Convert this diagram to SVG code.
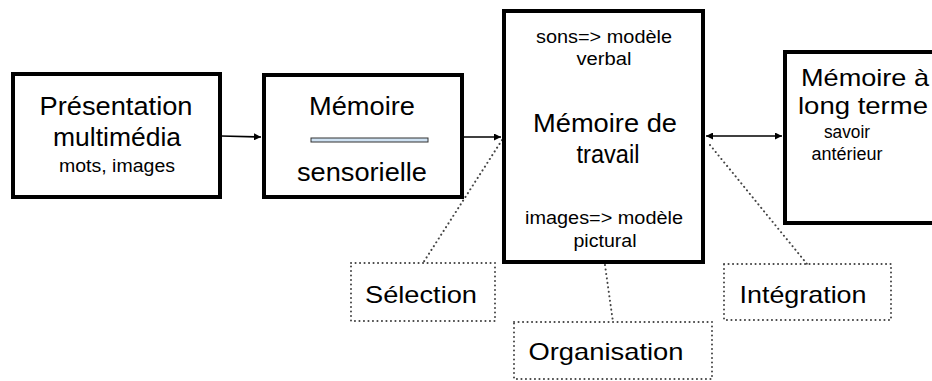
<svg xmlns="http://www.w3.org/2000/svg" width="932" height="381" viewBox="0 0 932 381">
  <defs>
    <marker id="arrow" viewBox="0 0 10 10" refX="10" refY="5" markerWidth="7" markerHeight="7" markerUnits="userSpaceOnUse" orient="auto-start-reverse">
      <path d="M0,0 L10,5 L0,10 Z" fill="#000"/>
    </marker>
    <style>
      .box { fill: #fff; stroke: #000; stroke-width: 4; }
      .dotbox { fill: none; stroke: #444; stroke-width: 2; stroke-dasharray: 0.1 4.4; stroke-linecap: round; }
      .leader { fill: none; stroke: #444; stroke-width: 2; stroke-dasharray: 0.1 4.4; stroke-linecap: round; }
      .conn { fill: none; stroke: #000; stroke-width: 1.6; }
      text { font-family: "Liberation Sans", Arial, sans-serif; fill: #000; text-anchor: middle; }
      .big { font-size: 25px; }
      .ltm { font-size: 24px; }
      .small { font-size: 17.5px; }
      .label { font-size: 24px; }
    </style>
  </defs>
  <rect width="932" height="381" fill="#fff"/>

  <!-- connectors -->
  <g id="connectors">
    <line class="conn" x1="221" y1="136" x2="261" y2="137" marker-end="url(#arrow)"/>
    <line class="conn" x1="463" y1="137" x2="501" y2="137" marker-end="url(#arrow)"/>
    <line class="conn" x1="706" y1="136" x2="782" y2="136" marker-start="url(#arrow)" marker-end="url(#arrow)"/>
    <line class="leader" x1="502" y1="140" x2="423" y2="263"/>
    <line class="leader" x1="605" y1="265" x2="613" y2="322"/>
    <line class="leader" x1="710" y1="145" x2="807" y2="264"/>
  </g>

  <!-- sensory input -->
  <g id="presentation">
    <rect class="box" x="13" y="74" width="207" height="123"/>
    <text class="big" x="116" y="115" textLength="153" lengthAdjust="spacingAndGlyphs">Présentation</text>
    <text class="big" x="117" y="146" textLength="128" lengthAdjust="spacingAndGlyphs">multimédia</text>
    <text class="small" x="117" y="172" textLength="116" lengthAdjust="spacingAndGlyphs">mots, images</text>
  </g>

  <g id="sensorielle">
    <rect class="box" x="264" y="75" width="198" height="122"/>
    <text class="big" x="362" y="115" textLength="106" lengthAdjust="spacingAndGlyphs">Mémoire</text>
    <rect x="311" y="138" width="117" height="4" fill="#cfe2f3" stroke="#333" stroke-width="1"/>
    <text class="big" x="362" y="181" textLength="130" lengthAdjust="spacingAndGlyphs">sensorielle</text>
  </g>

  <g id="travail">
    <rect class="box" x="504" y="11" width="199" height="251"/>
    <text class="small" x="604" y="43" textLength="136" lengthAdjust="spacingAndGlyphs">sons=&gt; modèle</text>
    <text class="small" x="604" y="65" textLength="55" lengthAdjust="spacingAndGlyphs">verbal</text>
    <text class="big" x="605" y="132" textLength="144" lengthAdjust="spacingAndGlyphs">Mémoire de</text>
    <text class="big" x="608" y="163" textLength="63" lengthAdjust="spacingAndGlyphs">travail</text>
    <text class="small" x="604" y="224" textLength="158" lengthAdjust="spacingAndGlyphs">images=&gt; modèle</text>
    <text class="small" x="605" y="247" textLength="63" lengthAdjust="spacingAndGlyphs">pictural</text>
  </g>

  <g id="long-terme">
    <rect class="box" x="785" y="52" width="170" height="171"/>
    <text class="ltm" x="865" y="86" textLength="128" lengthAdjust="spacingAndGlyphs">Mémoire à</text>
    <text class="ltm" x="863" y="114" textLength="130" lengthAdjust="spacingAndGlyphs">long terme</text>
    <text class="small" x="847" y="138" textLength="46" lengthAdjust="spacingAndGlyphs">savoir</text>
    <text class="small" x="847" y="160" textLength="71" lengthAdjust="spacingAndGlyphs">antérieur</text>
  </g>

  <!-- processes -->
  <g id="selection">
    <rect class="dotbox" x="351" y="263" width="144" height="58"/>
    <text class="label" x="421" y="303" textLength="112" lengthAdjust="spacingAndGlyphs">Sélection</text>
  </g>

  <g id="organisation">
    <rect class="dotbox" x="514" y="322" width="198" height="57"/>
    <text class="label" x="606" y="360" textLength="155" lengthAdjust="spacingAndGlyphs">Organisation</text>
  </g>

  <g id="integration">
    <rect class="dotbox" x="724" y="264" width="167" height="56"/>
    <text class="label" x="803" y="303" textLength="127" lengthAdjust="spacingAndGlyphs">Intégration</text>
  </g>
</svg>
